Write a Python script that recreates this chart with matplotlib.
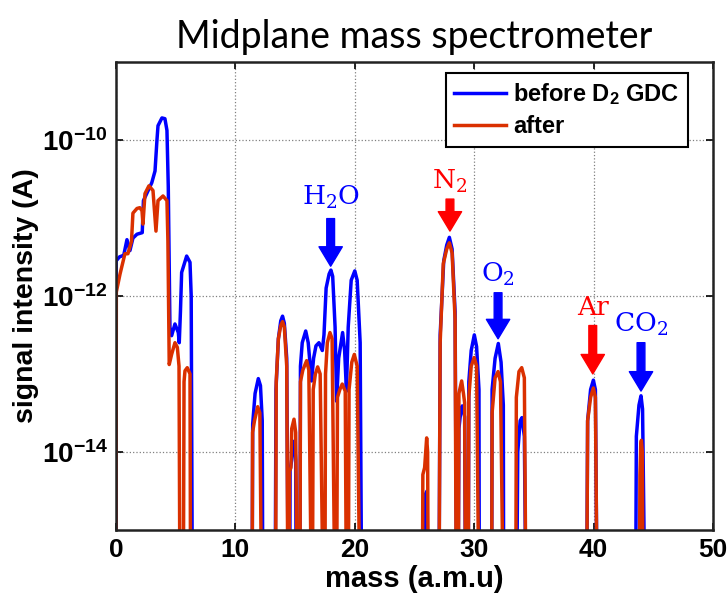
import numpy as np
from matplotlib import pyplot as plt
from matplotlib.ticker import FixedFormatter

plt.rcParams['font.family'] = ['Liberation Sans', 'DejaVu Sans']
plt.rcParams['mathtext.fontset'] = 'custom'
plt.rcParams['mathtext.rm'] = 'Liberation Sans'
plt.rcParams['mathtext.bf'] = 'Liberation Sans:bold'

# data: mass (a.m.u) and log10 of signal (A); -16 means off the bottom of the axis
mass_before = [0.0, 0.02, 0.3, 0.65, 0.92, 1.17, 1.42, 1.76, 2.2, 2.3, 2.7, 3.0, 3.27, 3.43, 3.52, 3.85, 4.1, 4.27,
               4.38, 4.52, 4.66, 4.94, 5.22, 5.3, 5.4, 5.5, 5.92, 6.2, 6.3, 6.4,
               11.4, 11.45, 11.65, 11.92, 12.1, 12.25, 12.3,
               13.33, 13.4, 13.6, 13.8, 13.95, 14.1, 14.3, 14.43,
               14.55, 14.58, 14.72, 14.8, 14.95, 15.05, 15.1,
               15.4, 15.45, 15.6, 15.89, 16.1, 16.38, 16.55, 16.75, 17.0, 17.28, 17.42, 17.6, 17.85, 18.0,
               18.15, 18.35, 18.48, 18.65, 18.98, 19.15, 19.3, 19.45, 19.7, 20.0, 20.2, 20.45, 20.58,
               25.88, 25.92, 26.05, 26.15,
               27.05, 27.15, 27.45, 27.7, 27.92, 28.15, 28.4, 28.53,
               28.65, 28.72, 28.9, 29.0, 29.2, 29.28,
               29.5, 29.55, 29.75, 30.01, 30.2, 30.4, 30.43,
               31.46, 31.5, 31.75, 32.02, 32.25, 32.44, 32.47,
               33.55, 33.65, 33.85, 34.0, 34.2, 34.34,
               39.42, 39.5, 39.75, 39.98, 40.15, 40.3,
               43.52, 43.58, 43.8, 43.97, 44.1, 44.3]
log_before = [-16, -11.55, -11.5, -11.48, -11.28, -11.42, -11.26, -11.21, -11.19, -10.78, -10.65, -10.55, -10.4,
              -10.01, -9.82, -9.72, -9.73, -9.88,
              -10.6, -12.4, -12.51, -12.36, -12.47, -12.6, -12.2, -11.7, -11.49, -11.57, -12.0, -16,
              -16, -13.64, -13.25, -13.06, -13.15, -13.6, -16,
              -16, -13.2, -12.55, -12.32, -12.26, -12.35, -12.8, -16,
              -16, -14.24, -14.1, -13.9, -13.86, -14.1, -16,
              -16, -12.9, -12.6, -12.45, -12.6, -13.09, -12.8, -12.64, -12.6, -12.7, -12.5, -11.9, -11.72, -11.67,
              -11.75, -12.4, -13.35, -12.8, -12.47, -12.7, -13.22, -12.4, -11.8, -11.68, -11.8, -12.6, -16,
              -16, -14.54, -14.5, -16,
              -16, -12.5, -11.55, -11.35, -11.25, -11.4, -12.2, -16,
              -16, -13.7, -13.45, -13.41, -13.55, -16,
              -16, -13.1, -12.7, -12.5, -12.65, -13.2, -16,
              -16, -13.2, -12.8, -12.61, -12.85, -13.4, -16,
              -16, -14.0, -13.6, -13.56, -13.8, -16,
              -16, -13.6, -13.2, -13.08, -13.2, -16,
              -16, -13.8, -13.4, -13.28, -13.45, -16]

mass_after = [0.0, 0.03, 0.34, 0.75, 1.0, 1.3, 1.42, 1.76, 2.0, 2.18, 2.26, 2.43, 2.76, 3.1, 3.35, 3.52, 3.94, 4.27,
              4.35, 4.46, 4.66, 4.94, 5.14, 5.28, 5.36,
              5.64, 5.7, 5.78, 5.97, 6.2, 6.25,
              11.4, 11.44, 11.6, 11.87, 12.05, 12.2,
              13.37, 13.42, 13.6, 13.8, 13.95, 14.1, 14.3, 14.4,
              14.49, 14.53, 14.65, 14.72, 14.91, 15.05, 15.2,
              15.41, 15.45, 15.65, 15.97, 16.15, 16.38,
              16.45, 16.52, 16.7, 16.89, 17.1, 17.36,
              17.5, 17.55, 17.7, 17.92, 18.1, 18.34,
              18.48, 18.55, 18.75, 18.95, 19.2, 19.3,
              19.46, 19.52, 19.75, 19.96, 20.2, 20.43,
              25.66, 25.7, 25.85, 26.02, 26.1, 26.15,
              27.05, 27.15, 27.41, 27.7, 27.92, 28.15, 28.4, 28.5,
              28.67, 28.72, 28.95, 29.1, 29.2, 29.28,
              29.5, 29.55, 29.75, 30.0, 30.2, 30.4,
              31.46, 31.5, 31.75, 32.0, 32.2, 32.44,
              33.48, 33.53, 33.75, 33.98, 34.2, 34.34,
              39.42, 39.5, 39.75, 39.98, 40.15, 40.3,
              43.83, 43.88, 43.95, 44.0, 44.08, 44.14]
log_after = [-16, -11.95, -11.72, -11.46, -11.46, -11.3, -10.94, -10.88, -10.87, -10.91, -11.08, -10.69, -10.59,
             -10.65, -11.17, -10.78, -10.72, -10.78,
             -11.3, -12.88, -12.75, -12.6, -12.66, -12.9, -16,
             -16, -13.1, -12.96, -12.92, -13.0, -16,
             -16, -13.75, -13.6, -13.42, -13.5, -16,
             -16, -13.1, -12.55, -12.38, -12.33, -12.4, -12.9, -16,
             -16, -14.25, -14.2, -13.7, -13.58, -13.75, -16,
             -16, -13.1, -12.95, -12.83, -12.95, -16,
             -16, -13.2, -13.0, -12.91, -13.0, -16,
             -16, -13.0, -12.6, -12.47, -12.55, -16,
             -16, -13.3, -13.2, -13.13, -13.22, -16,
             -16, -13.2, -12.85, -12.75, -12.9, -16,
             -16, -14.29, -14.2, -13.82, -14.0, -16,
             -16, -12.6, -11.59, -11.4, -11.32, -11.45, -12.3, -16,
             -16, -13.25, -13.09, -13.25, -13.37, -16,
             -16, -13.3, -12.9, -12.79, -12.9, -16,
             -16, -13.5, -13.05, -12.97, -13.1, -16,
             -16, -13.3, -12.97, -12.92, -13.05, -16,
             -16, -13.6, -13.3, -13.18, -13.3, -16,
             -16, -14.3, -13.9, -13.85, -14.0, -16]

y_tick_exp = [-14, -12, -10]

# gas labels: name, mass, colour, log10 of label centre, arrow start, arrow tip
gas_names = [r'$\mathregular{H_2O}$', r'$\mathregular{N_2}$', r'$\mathregular{O_2}$', 'Ar', r'$\mathregular{CO_2}$']
gas_mass = [17.98, 27.97, 32.0, 39.93, 43.97]
gas_color = ['#0000ff', '#ff0000', '#0000ff', '#ff0000', '#0000ff']
gas_text_y = [-10.74, -10.53, -11.73, -12.15, -12.36]
gas_arrow_from = [-11.01, -10.76, -11.96, -12.38, -12.6]
gas_arrow_to = [-11.62, -11.17, -12.55, -13.0, -13.22]

BLUE = '#0000ff'
RED = '#da3000'

fig = plt.figure(figsize=(7.28, 5.97), dpi=100)
ax = fig.add_axes([0.1593, 0.1122, 0.8201, 0.7844])

ax.plot(mass_before, 10.0 ** np.array(log_before), color=BLUE, lw=2.5, label=r'before D$\mathregular{_2}$ GDC')
ax.plot(mass_after, 10.0 ** np.array(log_after), color=RED, lw=2.5, label='after')

ax.set_yscale('log')
ax.set_xlim(0, 50)
ax.set_ylim(1e-15, 1e-9)
ax.set_xticks(np.arange(0, 51, 10))
ax.set_yticks([10.0 ** e for e in y_tick_exp])
ax.yaxis.set_major_formatter(FixedFormatter([r'$\mathbf{10^{%d}}$' % e for e in y_tick_exp]))
ax.yaxis.set_minor_locator(plt.NullLocator())
ax.grid(True, ls=':', color='#808080', lw=0.9)

ax.tick_params(direction='in', top=True, right=True, length=5, width=1.2, labelsize=19, pad=6)
ax.tick_params(axis='y', labelsize=20)
for lbl in ax.get_xticklabels() + ax.get_yticklabels():
    lbl.set_fontweight('bold')
for sp in ax.spines.values():
    sp.set_linewidth(1.8)
    sp.set_color('#222222')

ax.set_xlabel('mass (a.m.u)', fontsize=21, fontweight='bold', labelpad=2)
ax.set_ylabel('signal intensity (A)', fontsize=20.5, fontweight='bold', labelpad=2)
ax.set_title('Midplane mass spectrometer', fontsize=27, family=['Lato', 'DejaVu Sans'], pad=10)

for name, m, c, ty, y0, y1 in zip(gas_names, gas_mass, gas_color, gas_text_y, gas_arrow_from, gas_arrow_to):
    ax.text(m, 10 ** ty, name, color=c, fontsize=19, family='DejaVu Serif', ha='center', va='center')
    ax.annotate('', xy=(m, 10 ** y1), xytext=(m, 10 ** y0),
                arrowprops=dict(arrowstyle='simple,head_width=1.2,head_length=1.0,tail_width=0.4',
                                color=c, shrinkA=0, shrinkB=0, mutation_scale=14))

leg = ax.legend(loc='upper right', bbox_to_anchor=(0.958, 0.976), borderaxespad=0, fancybox=False,
                edgecolor='black', framealpha=1, prop=dict(weight='bold', size=17),
                handlelength=2.2, handletextpad=0.3, borderpad=0.35, labelspacing=0.35)
leg.get_frame().set_linewidth(1.5)

fig.savefig('out.png', dpi=100)
